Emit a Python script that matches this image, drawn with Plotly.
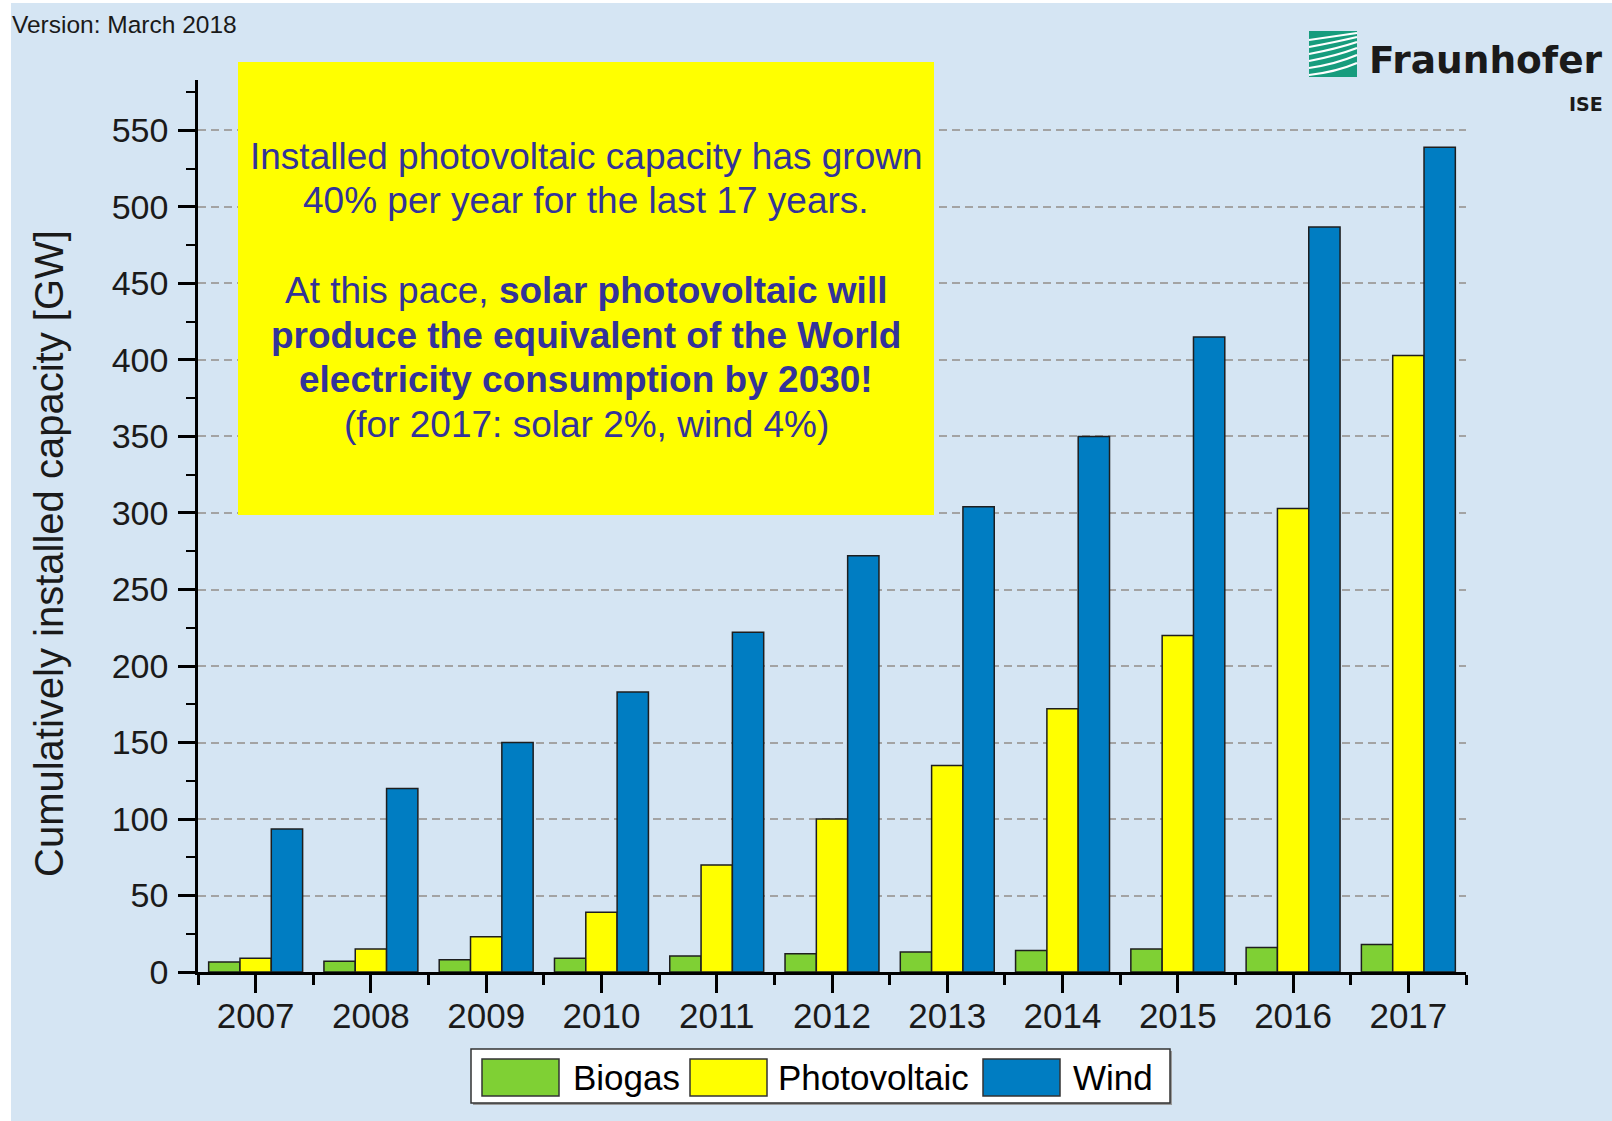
import plotly.graph_objects as go

# Cumulatively installed capacity worldwide [GW]
years = [2007, 2008, 2009, 2010, 2011, 2012, 2013, 2014, 2015, 2016, 2017]
biogas = [6.5, 7, 8, 9, 10.5, 12, 13, 14, 15, 16, 18]
photovoltaic = [9, 15, 23, 39, 70, 100, 135, 172, 220, 303, 403]
wind = [93.5, 120, 150, 183, 222, 272, 304, 350, 415, 487, 539]

series_names = ["Biogas", "Photovoltaic", "Wind"]
series_colors = ["#7FD034", "#FFFF00", "#007DC2"]
y_ticks = list(range(0, 551, 50))
year_labels = [str(y) for y in years]

# Page geometry (pixels) and plot-area edges
W, H = 1612, 1121
PL, PR, PT, PB = 198, 1466, 80, 972
BG = "#D5E5F3"
TEXT_BLUE = "#333399"
FONT = "Arial, 'Liberation Sans', sans-serif"


def fx(x):
    return (x - PL) / (PR - PL)


def fy(y):
    return (PB - y) / (PB - PT)


def rect(x0, y0, x1, y1, fill, line_color=None, line_width=0, layer="above"):
    return dict(type="rect", xref="paper", yref="paper",
                x0=fx(x0), x1=fx(x1), y0=fy(y1), y1=fy(y0),
                fillcolor=fill, layer=layer,
                line=dict(color=line_color or fill, width=line_width))


fig = go.Figure()
for name, values, color in zip(series_names, [biogas, photovoltaic, wind], series_colors):
    fig.add_trace(go.Bar(
        x=years, y=values, name=name, showlegend=False,
        marker=dict(color=color, line=dict(color="#1E1E1E", width=1.5)),
    ))

shapes = []
annotations = []

# white page border strips at left and top
shapes.append(rect(0, 0, 11, H, "white", layer="below"))
shapes.append(rect(0, 0, W, 3, "white", layer="below"))

# yellow message box
shapes.append(rect(238, 62, 934, 515, "#FFFF00"))
box_lines = [
    ("Installed photovoltaic capacity has grown", 156),
    ("40% per year for the last 17 years.", 200.5),
    ("At this pace, <b>solar photovoltaic will</b>", 290.5),
    ("<b>produce the equivalent of the World</b>", 335),
    ("<b>electricity consumption by 2030!</b>", 379.5),
    ("(for 2017: solar 2%, wind 4%)", 424),
]
for text, ypix in box_lines:
    annotations.append(dict(
        text=text, xref="paper", yref="paper", x=fx(586), y=fy(ypix),
        xanchor="center", yanchor="middle", showarrow=False,
        font=dict(family=FONT, size=37, color=TEXT_BLUE),
    ))

# legend box
shapes.append(rect(473, 1051, 1172, 1105, "#9A9A9A"))
shapes.append(rect(471, 1049, 1170, 1103, "white", "#333333", 1.5))
swatch_x = [482, 690, 983]
label_x = [571, 776, 1071]
for name, color, sx, lx in zip(series_names, series_colors, swatch_x, label_x):
    shapes.append(rect(sx, 1059, sx + 77, 1096, color, "#333333", 1.5))
    annotations.append(dict(
        text=name, xref="paper", yref="paper", x=fx(lx), y=fy(1077),
        xanchor="left", yanchor="middle", showarrow=False,
        font=dict(family=FONT, size=35, color="black"),
    ))

# version note
annotations.append(dict(
    text="Version: March 2018", xref="paper", yref="paper", x=fx(10), y=fy(24),
    xanchor="left", yanchor="middle", showarrow=False,
    font=dict(family=FONT, size=24.5, color="#1A1A1A"),
))

# y-axis title
annotations.append(dict(
    text="Cumulatively installed capacity [GW]", xref="paper", yref="paper",
    x=fx(49), y=fy(554), textangle=-90, xanchor="center", yanchor="middle",
    showarrow=False, font=dict(family=FONT, size=40, color="#1A1A1A"),
))

# institute logo: green square with white swept stripes
shapes.append(rect(1309, 31, 1357, 77, "#179C7D"))
stripes = [(40, 33, 36), (47, 37, 42), (54, 42, 49), (61, 48, 56), (68, 55, 64), (75, 63, 72)]
for y_left, y_right, y_ctrl in stripes:
    path = "M {:.5f},{:.5f} Q {:.5f},{:.5f} {:.5f},{:.5f}".format(
        fx(1309), fy(y_left), fx(1336), fy(y_ctrl), fx(1357), fy(y_right))
    shapes.append(dict(type="path", xref="paper", yref="paper", path=path,
                       line=dict(color="white", width=2.2), layer="above"))
annotations.append(dict(
    text="<b>Fraunhofer</b>", xref="paper", yref="paper", x=fx(1605), y=fy(60),
    xanchor="right", yanchor="middle", showarrow=False,
    font=dict(family="'DejaVu Sans', sans-serif", size=37.5, color="#1A1A1A"),
))
annotations.append(dict(
    text="<b>ISE</b>", xref="paper", yref="paper", x=fx(1605), y=fy(104),
    xanchor="right", yanchor="middle", showarrow=False,
    font=dict(family="'DejaVu Sans', sans-serif", size=19, color="#1A1A1A"),
))

fig.update_layout(
    width=W, height=H,
    margin=dict(l=PL, r=W - PR, t=PT, b=H - PB, pad=0),
    paper_bgcolor=BG, plot_bgcolor=BG,
    barmode="group", bargap=0.185, bargroupgap=0,
    shapes=shapes, annotations=annotations,
    showlegend=False,
)

fig.update_xaxes(
    range=[2006.5, 2017.5], tickmode="array", tickvals=years, ticktext=year_labels,
    ticks="outside", ticklen=18, tickwidth=2.5, tickcolor="black",
    minor=dict(tickmode="array", tickvals=[y + 0.5 for y in [2006] + years],
               ticks="outside", ticklen=10, tickwidth=2.5, tickcolor="black"),
    showline=True, linecolor="black", linewidth=3,
    showgrid=False, zeroline=False, ticklabelstandoff=-7,
    tickfont=dict(family=FONT, size=35, color="#1A1A1A"),
)

fig.update_yaxes(
    range=[0, 583], tickmode="array", tickvals=y_ticks,
    ticks="outside", ticklen=17, tickwidth=2.5, tickcolor="black",
    minor=dict(dtick=25, tick0=0, ticks="outside", ticklen=9, tickwidth=2,
               tickcolor="black", showgrid=False),
    showline=True, linecolor="black", linewidth=2.5,
    showgrid=True, gridcolor="#A3A3A3", gridwidth=2, griddash="8px,5px",
    zeroline=False, ticklabelstandoff=3,
    tickfont=dict(family=FONT, size=34, color="#1A1A1A"),
)

fig.write_html("out.html")
